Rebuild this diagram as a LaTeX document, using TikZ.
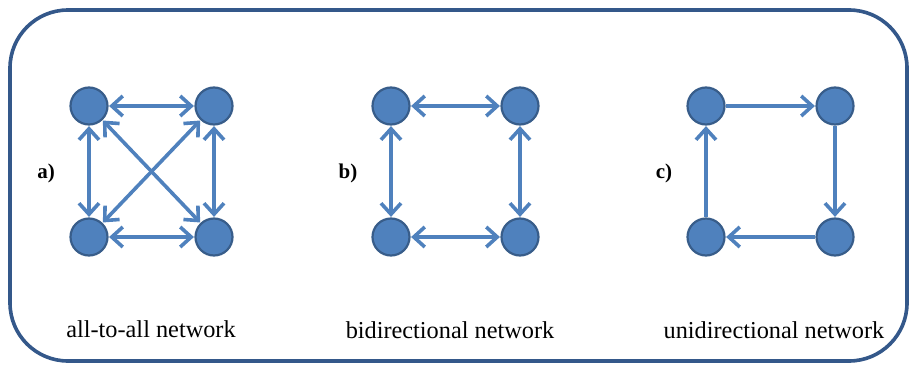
\documentclass[tikz,border=0pt]{standalone}
\usepackage{fontspec}
\setmainfont{Liberation Serif}
\usetikzlibrary{arrows.meta}
\definecolor{nodefill}{RGB}{79,129,189}
\definecolor{nodeline}{RGB}{56,93,138}
\definecolor{framecol}{RGB}{52,88,138}
\tikzset{
  netnode/.style={circle,fill=nodefill,draw=nodeline,line width=2.2pt,minimum size=37pt,inner sep=0pt,outer sep=1.1pt},
  link/.style={draw=nodefill,line width=3.6pt,shorten <=0.5pt,shorten >=0.5pt},
  bi/.style={link,{Straight Barb[length=11pt,width=20pt]}-{Straight Barb[length=11pt,width=20pt]}},
  uni/.style={link,-{Straight Barb[length=11pt,width=20pt]}},
  caption/.style={font=\fontsize{24.3}{27}\selectfont,anchor=base,inner sep=0pt},
  panel/.style={font=\bfseries\fontsize{21}{24}\selectfont,anchor=base,inner sep=0pt}
}
\begin{document}
\begin{tikzpicture}[x=1pt,y=-1pt]
\useasboundingbox (0,0) rectangle (910,364);
\draw[framecol,line width=3.6pt,rounded corners=58pt] (10,10) rectangle (907,361);
% a) all-to-all
\node[netnode] (a1) at (89,106) {};
\node[netnode] (a2) at (214,106) {};
\node[netnode] (a3) at (89,237) {};
\node[netnode] (a4) at (214,237) {};
\draw[bi] (a1) -- (a2);
\draw[bi] (a3) -- (a4);
\draw[bi] (a1) -- (a3);
\draw[bi] (a2) -- (a4);
\draw[bi] (a1) -- (a4);
\draw[bi] (a2) -- (a3);
% b) bidirectional
\node[netnode] (b1) at (391,106) {};
\node[netnode] (b2) at (520,106) {};
\node[netnode] (b3) at (391,237) {};
\node[netnode] (b4) at (520,237) {};
\draw[bi] (b1) -- (b2);
\draw[bi] (b3) -- (b4);
\draw[bi] (b1) -- (b3);
\draw[bi] (b2) -- (b4);
% c) unidirectional
\node[netnode] (c1) at (706,106) {};
\node[netnode] (c2) at (835,106) {};
\node[netnode] (c3) at (706,237) {};
\node[netnode] (c4) at (835,237) {};
\draw[uni] (c1) -- (c2);
\draw[uni] (c2) -- (c4);
\draw[uni] (c4) -- (c3);
\draw[uni] (c3) -- (c1);
% labels
\node[panel] (la) at (46,178) {a)};
\node[panel] (lb) at (348,178) {b)};
\node[panel] (lc) at (664,178) {c)};
\node[caption] (ca) at (151,337) {all-to-all network};
\node[caption] (cb) at (450,338) {bidirectional network};
\node[caption] (cc) at (774,338) {unidirectional network};
\end{tikzpicture}
\end{document}
